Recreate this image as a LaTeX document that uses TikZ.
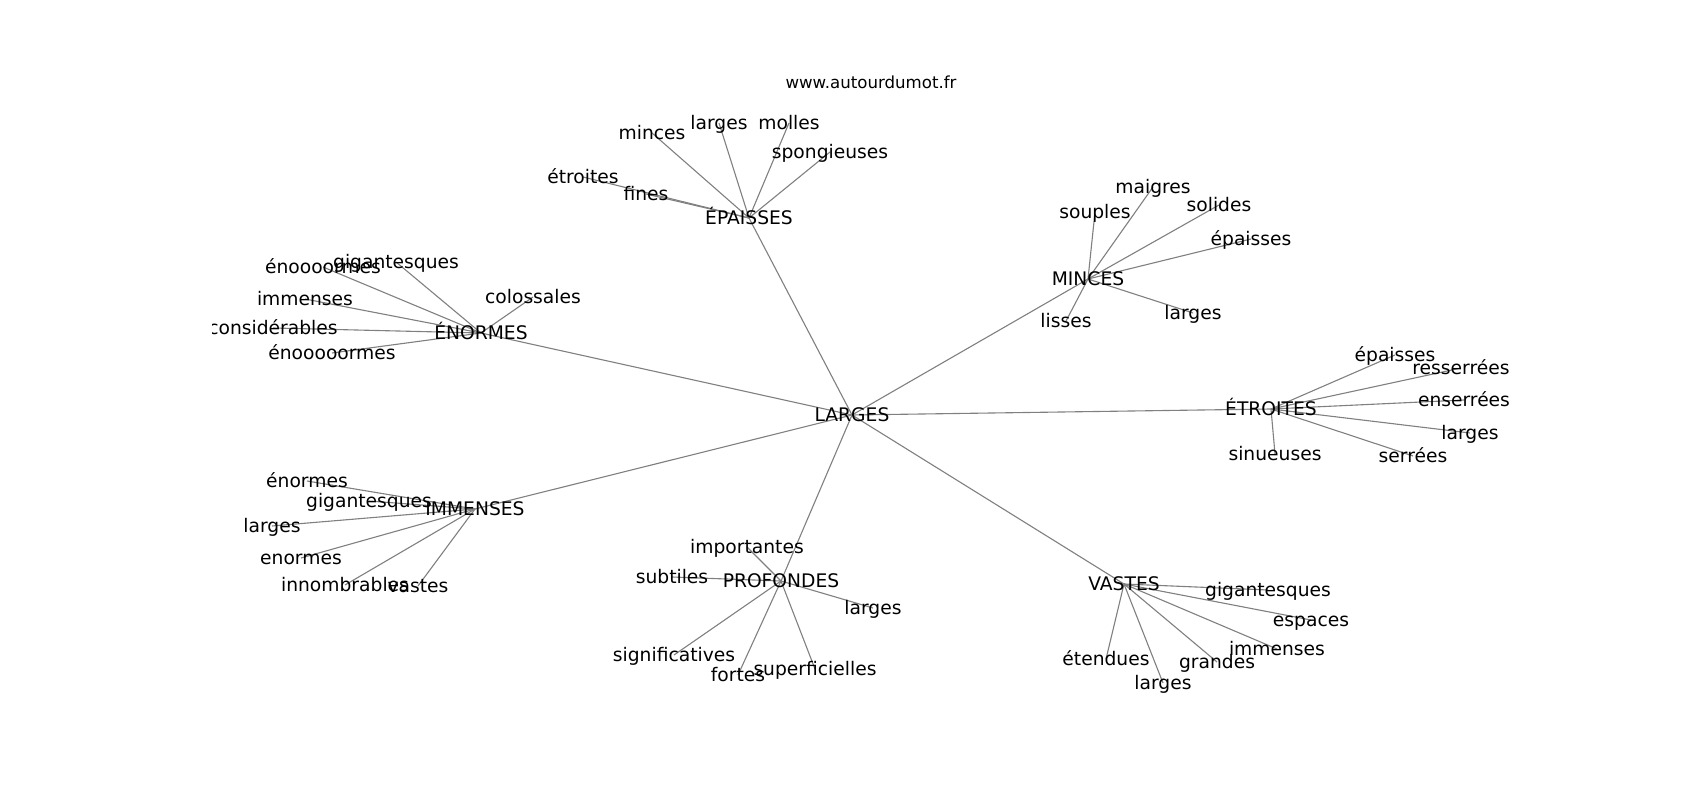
\documentclass[tikz,border=0pt]{standalone}
\usepackage{fontspec}
\setmainfont{DejaVu Sans}
\usetikzlibrary{backgrounds}
\definecolor{edgegray}{HTML}{808080}
\tikzstyle{word} = [inner sep=0pt, text height=0.98em, text depth=0pt,
    font=\fontsize{13.5}{16}\selectfont]
\tikzstyle{hub} = [word]
\tikzstyle{site} = [inner sep=0pt, font=\fontsize{12}{14}\selectfont]
\tikzstyle{edge} = [draw=edgegray, line width=0.8pt]

\begin{document}
\begin{tikzpicture}[x=0.01in, y=-0.01in]
    \useasboundingbox (0,0) rectangle (1700,800);
    % Title
    \node [site] (title) at (871,82) {www.autourdumot.fr};

    \begin{scope}
    \clip (212.5,96) rectangle (1530,712);
    % Centre and hubs
    \node [hub] (larges) at (852,415) {LARGES};
    \node [hub] (epaisses) at (749,218) {ÉPAISSES};
    \node [hub] (minces) at (1088,279) {MINCES};
    \node [hub] (enormes) at (481,333) {ÉNORMES};
    \node [hub] (etroites) at (1271,409) {ÉTROITES};
    \node [hub] (immenses) at (475,509) {IMMENSES};
    \node [hub] (profondes) at (781,581) {PROFONDES};
    \node [hub] (vastes) at (1124,584) {VASTES};

    % Words around ÉPAISSES
    \node [word] (ep_minces) at (652,133) {minces};
    \node [word] (ep_larges) at (719,123) {larges};
    \node [word] (ep_molles) at (789,123) {molles};
    \node [word] (ep_spong) at (830,152) {spongieuses};
    \node [word] (ep_fines) at (646,194) {fines};
    \node [word] (ep_etroites) at (583,177) {étroites};

    % Words around MINCES
    \node [word] (mi_maigres) at (1153,187) {maigres};
    \node [word] (mi_souples) at (1095,212) {souples};
    \node [word] (mi_solides) at (1219,205) {solides};
    \node [word] (mi_epaisses) at (1251,239) {épaisses};
    \node [word] (mi_lisses) at (1066,321) {lisses};
    \node [word] (mi_larges) at (1193,313) {larges};

    % Words around ÉNORMES
    \node [word] (en_enooo) at (323,267) {énoooormes};
    \node [word] (en_gigant) at (396,262) {gigantesques};
    \node [word] (en_immenses) at (305,299) {immenses};
    \node [word] (en_colossales) at (533,297) {colossales};
    \node [word] (en_consid) at (273,328) {considérables};
    \node [word] (en_enoooo) at (332,353) {énooooormes};

    % Words around ÉTROITES
    \node [word] (et_epaisses) at (1395,355) {épaisses};
    \node [word] (et_resserrees) at (1461,368) {resserrées};
    \node [word] (et_enserrees) at (1464,400) {enserrées};
    \node [word] (et_larges) at (1470,433) {larges};
    \node [word] (et_serrees) at (1413,456) {serrées};
    \node [word] (et_sinueuses) at (1275,454) {sinueuses};

    % Words around IMMENSES
    \node [word] (im_enormes) at (307,481) {énormes};
    \node [word] (im_gigant) at (369,501) {gigantesques};
    \node [word] (im_larges) at (272,526) {larges};
    \node [word] (im_enormes2) at (301,558) {enormes};
    \node [word] (im_innombr) at (345,585) {innombrables};
    \node [word] (im_vastes) at (418,586) {vastes};

    % Words around PROFONDES
    \node [word] (pr_import) at (747,547) {importantes};
    \node [word] (pr_subtiles) at (672,577) {subtiles};
    \node [word] (pr_larges) at (873,608) {larges};
    \node [word] (pr_signif) at (674,655) {significatives};
    \node [word] (pr_fortes) at (738,675) {fortes};
    \node [word] (pr_superf) at (815,669) {superficielles};

    % Words around VASTES
    \node [word] (va_gigant) at (1268,590) {gigantesques};
    \node [word] (va_espaces) at (1311,620) {espaces};
    \node [word] (va_immenses) at (1277,649) {immenses};
    \node [word] (va_grandes) at (1217,662) {grandes};
    \node [word] (va_larges) at (1163,683) {larges};
    \node [word] (va_etendues) at (1106,659) {étendues};
    \end{scope}

    % Links, under the words
    \begin{pgfonlayer}{background}
    \draw [edge] (larges.center) -- (epaisses.center);
    \draw [edge] (larges.center) -- (minces.center);
    \draw [edge] (larges.center) -- (enormes.center);
    \draw [edge] (larges.center) -- (etroites.center);
    \draw [edge] (larges.center) -- (immenses.center);
    \draw [edge] (larges.center) -- (profondes.center);
    \draw [edge] (larges.center) -- (vastes.center);

    \draw [edge] (epaisses.center) -- (ep_minces.center);
    \draw [edge] (epaisses.center) -- (ep_larges.center);
    \draw [edge] (epaisses.center) -- (ep_molles.center);
    \draw [edge] (epaisses.center) -- (ep_spong.center);
    \draw [edge] (epaisses.center) -- (ep_fines.center);
    \draw [edge] (epaisses.center) -- (ep_etroites.center);

    \draw [edge] (minces.center) -- (mi_maigres.center);
    \draw [edge] (minces.center) -- (mi_souples.center);
    \draw [edge] (minces.center) -- (mi_solides.center);
    \draw [edge] (minces.center) -- (mi_epaisses.center);
    \draw [edge] (minces.center) -- (mi_lisses.center);
    \draw [edge] (minces.center) -- (mi_larges.center);

    \draw [edge] (enormes.center) -- (en_enooo.center);
    \draw [edge] (enormes.center) -- (en_gigant.center);
    \draw [edge] (enormes.center) -- (en_immenses.center);
    \draw [edge] (enormes.center) -- (en_colossales.center);
    \draw [edge] (enormes.center) -- (en_consid.center);
    \draw [edge] (enormes.center) -- (en_enoooo.center);

    \draw [edge] (etroites.center) -- (et_epaisses.center);
    \draw [edge] (etroites.center) -- (et_resserrees.center);
    \draw [edge] (etroites.center) -- (et_enserrees.center);
    \draw [edge] (etroites.center) -- (et_larges.center);
    \draw [edge] (etroites.center) -- (et_serrees.center);
    \draw [edge] (etroites.center) -- (et_sinueuses.center);

    \draw [edge] (immenses.center) -- (im_enormes.center);
    \draw [edge] (immenses.center) -- (im_gigant.center);
    \draw [edge] (immenses.center) -- (im_larges.center);
    \draw [edge] (immenses.center) -- (im_enormes2.center);
    \draw [edge] (immenses.center) -- (im_innombr.center);
    \draw [edge] (immenses.center) -- (im_vastes.center);

    \draw [edge] (profondes.center) -- (pr_import.center);
    \draw [edge] (profondes.center) -- (pr_subtiles.center);
    \draw [edge] (profondes.center) -- (pr_larges.center);
    \draw [edge] (profondes.center) -- (pr_signif.center);
    \draw [edge] (profondes.center) -- (pr_fortes.center);
    \draw [edge] (profondes.center) -- (pr_superf.center);

    \draw [edge] (vastes.center) -- (va_gigant.center);
    \draw [edge] (vastes.center) -- (va_espaces.center);
    \draw [edge] (vastes.center) -- (va_immenses.center);
    \draw [edge] (vastes.center) -- (va_grandes.center);
    \draw [edge] (vastes.center) -- (va_larges.center);
    \draw [edge] (vastes.center) -- (va_etendues.center);
    \end{pgfonlayer}
\end{tikzpicture}
\end{document}
